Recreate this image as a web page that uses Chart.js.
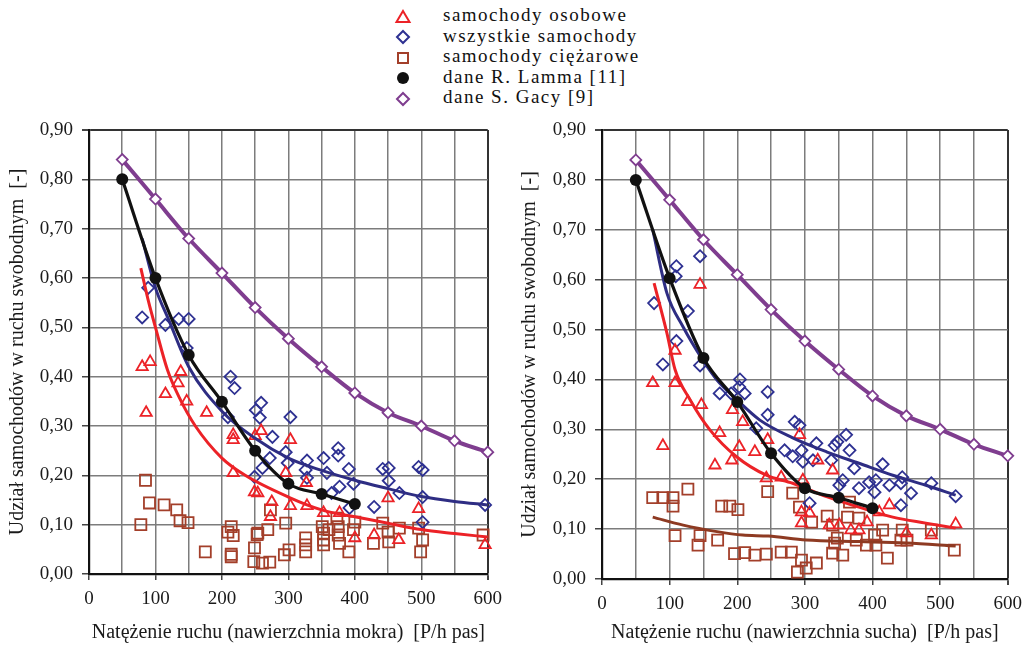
<!DOCTYPE html>
<html>
<head>
<meta charset="utf-8">
<script src="https://cdn.jsdelivr.net/npm/chart.js@4.4.0/dist/chart.umd.min.js"></script>
<style>
body { margin: 0; background: #fff; width: 1030px; height: 648px; overflow: hidden; position: relative; font-family: 'Liberation Serif', serif; }
#wet { position: absolute; left: 0; top: 0; }
#dry { position: absolute; left: 510px; top: 0; }
#legend { position: absolute; left: 394px; top: 5px; font-size: 19px; letter-spacing: 1.5px; color: #111; }
#legend div { height: 20.5px; line-height: 20.5px; white-space: nowrap; }
#legend svg { vertical-align: middle; margin-right: 31px; }
</style>
</head>
<body>
<div id="legend"></div>
<canvas id="wet" width="510" height="648"></canvas>
<canvas id="dry" width="520" height="648"></canvas>
<script>
// legend + axis text
var legendNames = ['samochody osobowe', 'wszystkie samochody', 'samochody ciężarowe', 'dane R. Lamma [11]', 'dane S. Gacy [9]'];
var yTitle = 'Udział samochodów w ruchu swobodnym  [-]';
var xTitleWet = 'Natężenie ruchu (nawierzchnia mokra)  [P/h pas]';
var xTitleDry = 'Natężenie ruchu (nawierzchnia sucha)  [P/h pas]';

// reference curves (same x for both panels)
var lammX = [50, 100, 150, 200, 250, 300, 350, 400];
var lammWet = [0.80, 0.60, 0.444, 0.349, 0.25, 0.183, 0.162, 0.142];
var lammDry = [0.80, 0.603, 0.443, 0.355, 0.252, 0.182, 0.163, 0.142];
var gacyX = [50, 100, 150, 200, 250, 300, 350, 400, 450, 500, 550, 600];
var gacyY = [0.84, 0.76, 0.68, 0.61, 0.54, 0.477, 0.42, 0.367, 0.327, 0.30, 0.27, 0.247];

// wet surface - measurements [flow, share]
var wetCars = [[80,0.42],[92,0.43],[138,0.41],[86,0.327],[115,0.365],[134,0.387],[147,0.35],[177,0.327],
  [217,0.282],[217,0.272],[217,0.205],[250,0.28],[249,0.166],[259,0.29],[303,0.272],[296,0.205],[254,0.164],
  [275,0.146],[303,0.138],[328,0.138],[327,0.185],[353,0.124],[377,0.124],[400,0.073],[429,0.079],[450,0.154],
  [466,0.069],[496,0.132],[596,0.059],[273,0.116]];
var wetAll = [[89,0.58],[80,0.52],[115,0.505],[135,0.517],[150,0.517],[147,0.458],[213,0.40],[219,0.377],
  [209,0.318],[251,0.332],[249,0.197],[259,0.347],[257,0.317],[303,0.318],[276,0.278],[296,0.247],[272,0.235],
  [261,0.215],[299,0.225],[328,0.23],[326,0.211],[328,0.195],[353,0.235],[358,0.205],[375,0.255],[375,0.24],
  [391,0.213],[377,0.177],[365,0.164],[398,0.183],[429,0.136],[442,0.213],[451,0.215],[451,0.189],[467,0.164],
  [496,0.217],[502,0.211],[502,0.156],[502,0.105],[596,0.14],[392,0.134]];
var wetTrucks = [[85,0.19],[91,0.144],[113,0.14],[132,0.13],[137,0.108],[149,0.104],[78,0.10],[175,0.045],
  [214,0.096],[209,0.085],[217,0.078],[214,0.035],[214,0.04],[249,0.053],[248,0.025],[253,0.08],[261,0.022],
  [272,0.024],[254,0.083],[269,0.09],[273,0.13],[294,0.039],[301,0.049],[296,0.103],[326,0.073],[326,0.059],
  [326,0.045],[351,0.096],[353,0.083],[353,0.069],[353,0.059],[361,0.09],[373,0.113],[375,0.096],[375,0.079],
  [377,0.062],[391,0.045],[398,0.09],[400,0.105],[428,0.062],[442,0.103],[450,0.085],[451,0.065],[467,0.093],
  [496,0.093],[499,0.045],[502,0.069],[593,0.079]];
var wetCarsFit = [[78,0.62],[90,0.55],[100,0.50],[118,0.414],[135,0.36],[160,0.30],[200,0.235],[235,0.20],
  [300,0.156],[350,0.13],[400,0.116],[450,0.103],[500,0.09],[550,0.082],[600,0.075]];
var wetAllFit = [[80,0.68],[100,0.58],[120,0.515],[150,0.42],[200,0.33],[250,0.275],[300,0.235],[350,0.21],
  [400,0.19],[450,0.173],[500,0.157],[550,0.147],[600,0.14]];

// dry surface
var dryCars = [[145,0.59],[108,0.458],[75,0.393],[108,0.393],[90,0.267],[127,0.355],[147,0.349],[174,0.293],
  [167,0.228],[192,0.238],[203,0.265],[226,0.255],[193,0.339],[208,0.315],[245,0.279],[243,0.202],[292,0.289],
  [319,0.238],[341,0.218],[265,0.204],[297,0.198],[295,0.134],[295,0.112],[307,0.132],[336,0.108],[351,0.108],
  [368,0.098],[380,0.098],[392,0.114],[410,0.134],[425,0.148],[450,0.092],[487,0.088],[523,0.11]];
var dryAll = [[77,0.553],[90,0.43],[110,0.627],[109,0.607],[110,0.477],[127,0.537],[145,0.647],[145,0.428],
  [204,0.40],[191,0.372],[211,0.372],[203,0.385],[174,0.372],[228,0.302],[245,0.375],[245,0.329],[285,0.315],
  [292,0.308],[270,0.258],[282,0.246],[295,0.258],[297,0.235],[312,0.238],[317,0.272],[339,0.238],[344,0.268],
  [348,0.275],[361,0.289],[366,0.258],[373,0.222],[356,0.198],[351,0.188],[380,0.182],[395,0.194],[403,0.174],
  [405,0.198],[415,0.23],[425,0.188],[442,0.192],[444,0.204],[457,0.172],[442,0.148],[487,0.192],[523,0.166],
  [307,0.152]];
var dryTrucks = [[75,0.163],[90,0.163],[105,0.163],[105,0.146],[127,0.18],[108,0.087],[145,0.087],[142,0.068],
  [171,0.078],[177,0.146],[189,0.146],[201,0.139],[196,0.051],[211,0.053],[226,0.048],[243,0.05],[245,0.175],
  [282,0.172],[292,0.144],[310,0.114],[333,0.126],[341,0.108],[363,0.124],[366,0.154],[380,0.122],[348,0.082],
  [344,0.072],[341,0.052],[356,0.048],[376,0.078],[391,0.068],[405,0.068],[403,0.088],[415,0.098],[422,0.042],
  [444,0.098],[442,0.078],[451,0.078],[487,0.098],[521,0.058],[265,0.054],[280,0.054],[295,0.038],[289,0.014],
  [302,0.022],[317,0.032]];
var dryCarsFit = [[77,0.593],[96,0.493],[108,0.42],[130,0.36],[159,0.30],[199,0.245],[243,0.208],[282,0.192],
  [332,0.165],[380,0.144],[430,0.124],[479,0.112],[523,0.102]];
var dryAllFit = [[75,0.70],[96,0.573],[120,0.505],[149,0.439],[170,0.399],[199,0.36],[233,0.319],[282,0.283],
  [332,0.255],[380,0.232],[430,0.208],[479,0.188],[523,0.168]];
var dryTrucksFit = [[75,0.124],[120,0.108],[170,0.095],[208,0.088],[246,0.086],[302,0.078],[380,0.075],
  [450,0.072],[523,0.066]];

var RED = '#ec2227', BLUE = '#2e3192', BROWN = '#a33f2a', PURPLE = '#7f3d8f', BLACK = '#111';
var SERIF = "'Liberation Serif', 'Times New Roman', serif";
var NONE = 'rgba(255,255,255,0)';

// legend
var legendIcons = [
  '<polygon points="9,3 15.5,14 2.5,14" fill="none" stroke="' + RED + '" stroke-width="2"/>',
  '<polygon points="9,3 15,9 9,15 3,9" fill="none" stroke="' + BLUE + '" stroke-width="2"/>',
  '<rect x="4" y="4" width="10" height="10" fill="none" stroke="' + BROWN + '" stroke-width="2"/>',
  '<circle cx="9" cy="9" r="6" fill="' + BLACK + '"/>',
  '<polygon points="9,3 15,9 9,15 3,9" fill="none" stroke="' + PURPLE + '" stroke-width="2"/>'
];
var lg = document.getElementById('legend');
legendNames.forEach(function (name, i) {
  var row = document.createElement('div');
  row.innerHTML = '<svg width="18" height="18" viewBox="0 0 18 18">' + legendIcons[i] + '</svg>';
  row.appendChild(document.createTextNode(name));
  lg.appendChild(row);
});

function pts(a) { return a.map(function (p) { return { x: p[0], y: p[1] }; }); }
function zip(xs, ys) { return xs.map(function (x, i) { return { x: x, y: ys[i] }; }); }

function marks(data, color, style, r) {
  return { data: pts(data), showLine: false, pointStyle: style, pointRadius: r, pointBorderWidth: 1.8,
    pointBorderColor: color, pointBackgroundColor: NONE, clip: false };
}
function fit(data, color) {
  return { data: pts(data), showLine: true, borderColor: color, borderWidth: 3, pointRadius: 0,
    cubicInterpolationMode: 'monotone', clip: false };
}

function edge(c, max) { return c.tick && Math.abs(c.tick.value - max) < 1e-6; }

function makeChart(id, sets, o) {
  return new Chart(document.getElementById(id), {
    type: 'scatter',
    data: { datasets: sets },
    options: {
      responsive: false, animation: false, events: [],
      layout: { padding: { left: 0, right: o.padRight, top: 130, bottom: 0 } },
      plugins: { legend: { display: false }, tooltip: { enabled: false } },
      scales: {
        x: {
          type: 'linear', min: 0, max: 600,
          afterFit: function (s) { s.height = o.xh; },
          ticks: { stepSize: 50, autoSkip: false, maxRotation: 0, padding: 8, color: '#1a1a1a',
            font: { family: SERIF, size: 19 },
            callback: function (v) { return v % 100 === 0 ? String(v) : ''; } },
          grid: {
            color: function (c) { return edge(c, 600) ? '#333' : '#7c7c7c'; },
            lineWidth: function (c) { return edge(c, 600) ? 2 : 1.5; },
            tickLength: 6,
            tickColor: function (c) { return c.tick && c.tick.value % 100 === 0 ? '#444' : NONE; }
          },
          border: { color: '#111', width: 2.2 },
          title: { display: true, text: o.xTitle, color: '#1a1a1a', font: { family: SERIF, size: 20 },
            padding: { top: 0, bottom: 3 } }
        },
        y: {
          min: 0, max: 0.9,
          afterFit: function (s) { s.width = o.yw; },
          ticks: { stepSize: 0.1, padding: 9, color: '#1a1a1a', font: { family: SERIF, size: 19 },
            callback: function (v) { return v.toFixed(2).replace('.', ','); } },
          grid: {
            color: function (c) { return edge(c, 0.9) ? '#333' : '#7c7c7c'; },
            lineWidth: function (c) { return edge(c, 0.9) ? 2 : 1.5; },
            tickLength: 7, tickColor: '#444'
          },
          border: { color: '#111', width: 2.2 },
          title: { display: true, text: yTitle, color: '#1a1a1a', font: { family: SERIF, size: 20 },
            padding: { top: o.ytp, bottom: 0 } }
        }
      }
    }
  });
}

function refSets(lamm) {
  return [
    { data: zip(gacyX, gacyY), showLine: true, borderColor: PURPLE, borderWidth: 4, pointStyle: 'rectRot',
      pointRadius: 5.5, pointBorderWidth: 1.8, pointBorderColor: PURPLE, pointBackgroundColor: '#fff',
      cubicInterpolationMode: 'monotone', clip: false },
    { data: zip(lammX, lamm), showLine: true, borderColor: BLACK, borderWidth: 3.2, pointStyle: 'circle',
      pointRadius: 6, pointBorderWidth: 0, pointBackgroundColor: BLACK,
      cubicInterpolationMode: 'monotone', clip: false }
  ];
}

makeChart('wet', refSets(lammWet).concat([
  fit(wetAllFit, '#2e2d83'),
  fit(wetCarsFit, RED),
  marks(wetCars, RED, 'triangle', 6.5),
  marks(wetAll, BLUE, 'rectRot', 6),
  marks(wetTrucks, BROWN, 'rect', 7.8)
]), { xTitle: xTitleWet, padRight: 17, xh: 74, yw: 89, ytp: 6 });

makeChart('dry', refSets(lammDry).concat([
  fit(dryAllFit, '#2e2d83'),
  fit(dryCarsFit, RED),
  fit(dryTrucksFit, '#8e3a22'),
  marks(dryCars, RED, 'triangle', 6.5),
  marks(dryAll, BLUE, 'rectRot', 6),
  marks(dryTrucks, BROWN, 'rect', 7.8)
]), { xTitle: xTitleDry, padRight: 21, xh: 69, yw: 92, ytp: 8 });
</script>
</body>
</html>
